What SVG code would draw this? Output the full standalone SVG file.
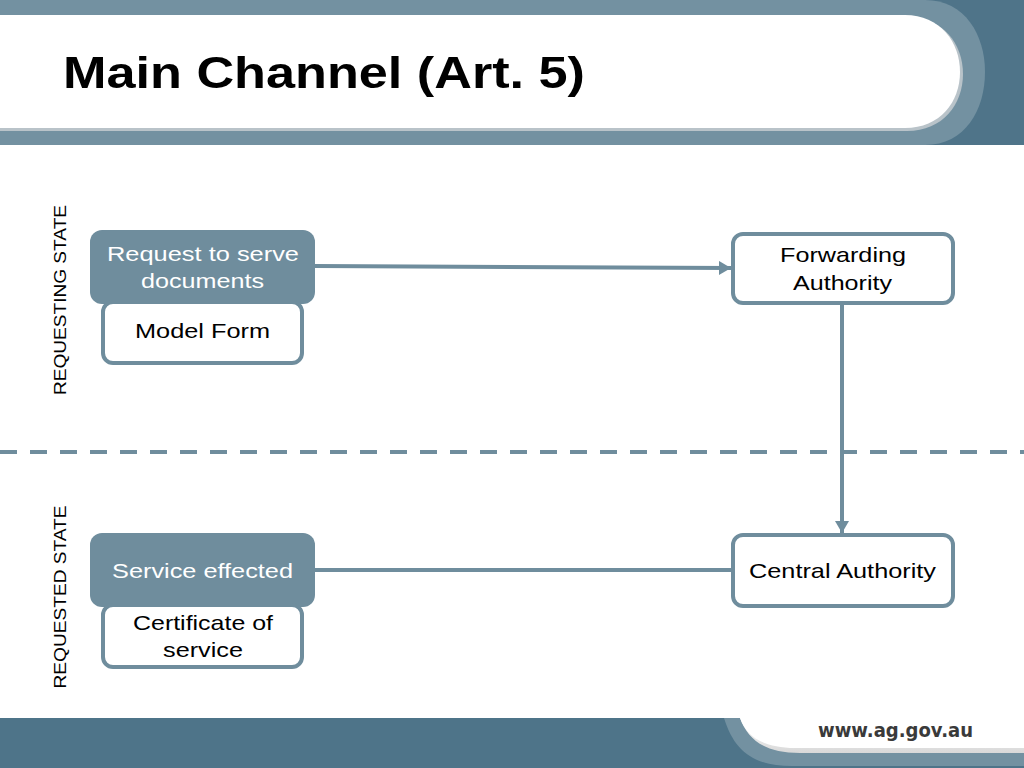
<svg xmlns="http://www.w3.org/2000/svg" width="1024" height="768" viewBox="0 0 1024 768">
<defs>
<style>
.box{fill:#fff;stroke:#6f8d9d;stroke-width:4}
.fill{fill:#6f8d9d}
.t{font-family:"Liberation Sans",Arial,sans-serif;font-size:21px;fill:#000;text-anchor:start}
.w{fill:#fff}
.side{font-family:"Liberation Sans",Arial,sans-serif;font-size:17px;fill:#000;text-anchor:middle}
.conn{stroke:#6f8d9d;stroke-width:4;fill:none}
</style>
<marker id="arr" viewBox="0 0 12 14" refX="12" refY="7" markerWidth="12" markerHeight="14" markerUnits="userSpaceOnUse" orient="auto">
<path d="M0,0 L12,7 L0,14 Z" fill="#6f8d9d"/>
</marker>
<linearGradient id="sh" x1="0" y1="0" x2="0" y2="1">
<stop offset="0" stop-color="#ffffff"/>
<stop offset="1" stop-color="#d8d8d8"/>
</linearGradient>
</defs>
<rect width="1024" height="768" fill="#ffffff"/>
<g id="header">
<rect x="0" y="0" width="1024" height="145" fill="#4f7489"/>
<path d="M0,0 H925 C965,0 985,35 985,72 C985,110 965,145 925,145 H0 Z" fill="#7391a1"/>
<path d="M0,17 H907 C943,17 963,44 963,74 C963,104 943,131 907,131 H0 Z" fill="#b9c3c9"/>
<path d="M0,15 H905 C940,15 960,42 960,72 C960,102 940,128 905,128 H0 Z" fill="#ffffff"/>
<text x="63" y="88" font-family="'Liberation Sans',Arial,sans-serif" font-size="45" font-weight="bold" fill="#000" textLength="522" lengthAdjust="spacingAndGlyphs">Main Channel (Art. 5)</text>
</g>
<g id="footer">
<rect x="0" y="718" width="1024" height="50" fill="#4e7489"/>
<path d="M724,718 C734,750 752,766 792,766 H1024 V718 Z" fill="#7391a1"/>
<path d="M740,718 C748,740 765,753 800,753 H1024 V718 Z" fill="url(#sh)"/>
<path d="M740,718 C747,737 762,747 795,748 H1024 V718 Z" fill="#ffffff"/>
<text x="818" y="737" font-family="'DejaVu Sans',Verdana,sans-serif" font-size="20" font-weight="bold" fill="#3a3a3a" textLength="155" lengthAdjust="spacingAndGlyphs">www.ag.gov.au</text>
</g>
<g id="divider">
<line x1="0" y1="452" x2="1024" y2="452" stroke="#6f8d9d" stroke-width="4" stroke-dasharray="17 13"/>
</g>
<g id="lane-requesting">
<text class="side" transform="translate(66,300) rotate(-90)" textLength="190" lengthAdjust="spacingAndGlyphs">REQUESTING STATE</text>
</g>
<g id="lane-requested">
<text class="side" transform="translate(66,597) rotate(-90)" textLength="183" lengthAdjust="spacingAndGlyphs">REQUESTED STATE</text>
</g>
<g id="connectors">
<line class="conn" x1="315" y1="266" x2="731" y2="268" marker-end="url(#arr)"/>
<line class="conn" x1="842" y1="305" x2="842" y2="533" marker-end="url(#arr)"/>
<line class="conn" x1="315" y1="570" x2="733" y2="570"/>
</g>
<g id="request">
<rect class="fill" x="90" y="230" width="225" height="74" rx="12"/>
<text class="t w" x="107" y="261" textLength="192" lengthAdjust="spacingAndGlyphs">Request to serve</text>
<text class="t w" x="141" y="288" textLength="123" lengthAdjust="spacingAndGlyphs">documents</text>
</g>
<g id="model-form">
<rect class="box" x="103" y="302" width="199" height="61" rx="10"/>
<text class="t" x="135" y="338" textLength="135" lengthAdjust="spacingAndGlyphs">Model Form</text>
</g>
<g id="forwarding">
<rect class="box" x="733" y="234" width="220" height="69" rx="10"/>
<text class="t" x="780" y="262" textLength="126" lengthAdjust="spacingAndGlyphs">Forwarding</text>
<text class="t" x="793" y="290" textLength="99" lengthAdjust="spacingAndGlyphs">Authority</text>
</g>
<g id="central">
<rect class="box" x="733" y="535" width="220" height="71" rx="10"/>
<text class="t" x="749" y="578" textLength="187" lengthAdjust="spacingAndGlyphs">Central Authority</text>
</g>
<g id="service">
<rect class="fill" x="90" y="533" width="225" height="74" rx="12"/>
<text class="t w" x="112" y="578" textLength="181" lengthAdjust="spacingAndGlyphs">Service effected</text>
</g>
<g id="certificate">
<rect class="box" x="103" y="605" width="199" height="62" rx="10"/>
<text class="t" x="133" y="630" textLength="140" lengthAdjust="spacingAndGlyphs">Certificate of</text>
<text class="t" x="163" y="657" textLength="80" lengthAdjust="spacingAndGlyphs">service</text>
</g>
</svg>
